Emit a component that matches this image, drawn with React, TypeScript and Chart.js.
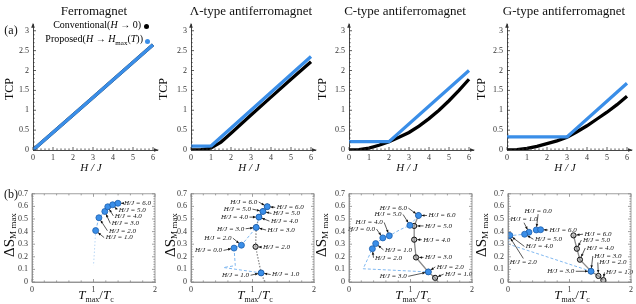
import React, { useEffect, useRef } from 'react';
import { Chart, registerables } from 'chart.js';
Chart.register(...registerables);

// ---------------- top row data: TCP vs H/J ----------------
const H_TICKS = [0, 1, 2, 3, 4, 5, 6];
const TCP_TICKS = [0, 0.5, 1, 1.5, 2, 2.5, 3];

const FERRO_H = [0, 3, 6];
const FERRO_CONV_TCP = [0, 1.32, 2.65];
const FERRO_PROP_TCP = [0, 1.32, 2.65];

const A_CONV_H = [0, 0.5, 1, 1.5, 2, 3, 4, 5, 6];
const A_CONV_TCP = [0, 0.01, 0.05, 0.2, 0.42, 0.88, 1.33, 1.78, 2.22];
const A_PROP_H = [0, 1, 6];
const A_PROP_TCP = [0.1, 0.1, 2.35];

const C_CONV_H = [0, 0.5, 1, 1.5, 2, 2.5, 3, 3.5, 4, 4.5, 5, 5.5, 6];
const C_CONV_TCP = [0, 0.01, 0.05, 0.12, 0.21, 0.32, 0.44, 0.6, 0.79, 1.0, 1.24, 1.5, 1.78];
const C_PROP_H = [0, 2, 6];
const C_PROP_TCP = [0.21, 0.21, 2.0];

const G_CONV_H = [0, 0.5, 1, 1.5, 2, 2.5, 3, 3.5, 4, 4.5, 5, 5.5, 6];
const G_CONV_TCP = [0, 0.01, 0.04, 0.09, 0.16, 0.23, 0.32, 0.46, 0.61, 0.78, 0.95, 1.14, 1.35];
const G_PROP_H = [0, 3, 6];
const G_PROP_TCP = [0.33, 0.33, 1.68];

// ---------------- bottom row data: ΔS_M max vs T_max/T_c ----------------
const T_TICKS = [0, 1, 2];
const S_TICKS = [0, 0.1, 0.2, 0.3, 0.4, 0.5, 0.6, 0.7];

const FERRO_PROP_HJ = [1, 2, 3, 4, 5, 6];
const FERRO_PROP_T = [1.035, 1.088, 1.184, 1.232, 1.312, 1.397];
const FERRO_PROP_S = [0.408, 0.51, 0.56, 0.597, 0.613, 0.625];
const FERRO_PATH_T = [1.397, 1.312, 1.232, 1.184, 1.088, 1.035];
const FERRO_PATH_S = [0.625, 0.613, 0.597, 0.56, 0.51, 0.408];
const FERRO_TAIL_T = [1.035, 1.02, 1.0];
const FERRO_TAIL_S = [0.408, 0.28, 0.13];

const A_PROP_HJ = [0, 1, 2, 3, 4, 5, 6];
const A_PROP_T = [0.7, 1.14, 0.82, 1.06, 1.105, 1.17, 1.24];
const A_PROP_S = [0.269, 0.072, 0.292, 0.433, 0.515, 0.56, 0.598];
const A_CONV_HJ = [1, 2, 3, 4, 5, 6];
const A_CONV_T = [1.14, 1.05, 1.06, 1.105, 1.17, 1.24];
const A_CONV_S = [0.072, 0.28, 0.433, 0.515, 0.56, 0.598];
const A_PPATH_T = [1.24, 1.17, 1.105, 1.06, 0.82, 0.7, 0.72, 0.53, 1.14];
const A_PPATH_S = [0.598, 0.56, 0.515, 0.433, 0.292, 0.269, 0.13, 0.115, 0.072];
const A_CPATH_T = [1.24, 1.17, 1.105, 1.06, 1.05, 1.14, 1.2];
const A_CPATH_S = [0.598, 0.56, 0.515, 0.433, 0.28, 0.072, 0];

const C_PROP_HJ = [0, 1, 2, 3, 4, 5, 6];
const C_PROP_T = [0.55, 0.434, 0.38, 1.29, 0.655, 0.99, 1.13];
const C_PROP_S = [0.35, 0.305, 0.264, 0.08, 0.367, 0.45, 0.528];
const C_CONV_HJ = [1, 2, 3, 4, 5, 6];
const C_CONV_T = [1.4, 1.29, 1.09, 1.06, 1.06, 1.13];
const C_CONV_S = [0.033, 0.08, 0.195, 0.336, 0.445, 0.528];
const C_PPATH_T = [1.13, 0.99, 0.83, 0.655, 0.55, 0.434, 0.38, 0.23, 1.29];
const C_PPATH_S = [0.528, 0.45, 0.415, 0.367, 0.35, 0.305, 0.264, 0.105, 0.08];
const C_CPATH_T = [1.13, 1.06, 1.06, 1.09, 1.29, 1.4, 1.45];
const C_CPATH_S = [0.528, 0.445, 0.336, 0.195, 0.08, 0.033, 0];

const G_PROP_HJ = [0, 1, 2, 3, 4, 5, 6];
const G_PROP_T = [0.46, 0.34, 0.015, 1.35, 0.03, 0.27, 0.53];
const G_PROP_S = [0.413, 0.395, 0.367, 0.085, 0.37, 0.379, 0.415];
const G_CONV_HJ = [1, 2, 3, 4, 5, 6];
const G_CONV_T = [1.55, 1.47, 1.35, 1.17, 1.12, 1.065];
const G_CONV_S = [0.015, 0.048, 0.085, 0.177, 0.264, 0.37];
const G_PPATH_T = [0.53, 0.46, 0.34, 0.27, 0.015, 0.01, 1.35];
const G_PPATH_S = [0.415, 0.413, 0.395, 0.379, 0.367, 0.3, 0.085];
const G_CPATH_T = [1.065, 1.12, 1.17, 1.35, 1.47, 1.55];
const G_CPATH_S = [0.37, 0.264, 0.177, 0.085, 0.048, 0.015];

// ---------------- label layout (pixel offsets from the marked point) ----------------
type Lbl = [number, number, number, number, 'left' | 'right' | 'center'];
// [dataset (0 proposed / 1 conventional), index, dx, dy, align]
const FERRO_LBL: Lbl[] = [
  [0, 5, 6, 0, 'left'], [0, 4, 6, 5, 'left'], [0, 3, 7, 9, 'left'],
  [0, 2, 7, 12, 'left'], [0, 1, 10, 13, 'left'], [0, 0, 10, 7, 'left'],
];
const A_LBL: Lbl[] = [
  [0, 6, -10, -4.6, 'right'], [0, 5, -12, -2.3, 'right'], [0, 4, -11, 0, 'right'],
  [0, 3, -12, 1.3, 'right'], [0, 2, -10, -7, 'right'], [0, 0, -12, 2.3, 'right'],
  [0, 1, -12, 2.3, 'right'],
  [1, 5, 9.4, 0.7, 'left'], [1, 4, 10, 2, 'left'], [1, 3, 12, 4, 'left'],
  [1, 2, 11.4, 2.6, 'left'], [1, 1, 7.3, 0.4, 'left'], [1, 0, 11, 1.6, 'left'],
];
const C_LBL: Lbl[] = [
  [0, 6, -11.6, -7.3, 'right'], [0, 5, -8.3, -10.8, 'right'], [0, 4, -6.6, -13.3, 'right'],
  [0, 0, -7.8, -8.8, 'right'], [0, 1, 9.3, 6.3, 'left'], [0, 2, 2.6, 9, 'left'],
  [0, 3, -21.6, 4.4, 'right'],
  [1, 5, 10, 0, 'left'], [1, 4, 10.8, 0, 'left'], [1, 3, 9, 0, 'left'],
  [1, 2, 9, 0, 'left'], [1, 1, 8.4, -5, 'left'], [1, 0, 10, -3.7, 'left'],
];
const G_LBL: Lbl[] = [
  [0, 0, 1.8, -19.3, 'center'], [0, 1, -4.9, -13, 'center'], [0, 2, 14.4, 26.7, 'center'],
  [0, 3, -16.7, 0, 'right'], [0, 4, 16, 11, 'left'], [0, 5, 10.3, 5, 'left'],
  [0, 6, 9, 0.3, 'left'],
  [1, 5, 11, -1.2, 'left'], [1, 4, 6, -8.7, 'left'], [1, 3, 6.8, -11.7, 'left'],
  [1, 2, 3.3, -15.3, 'left'], [1, 1, 0.9, -13.5, 'left'], [1, 0, 2.6, -7.7, 'left'],
];

const BLUE = '#3a8ee8';
const SERIF = '"Liberation Serif", "DejaVu Serif", serif';

const xy = (xs: number[], ys: number[]) => xs.map((x, i) => ({ x, y: ys[i] }));

function makeArrowPlugin(items: { ds: number; i: number; text: string; dx: number; dy: number; align: string }[]) {
  return {
    id: 'arrowLabels',
    afterDatasetsDraw(chart: any) {
      const ctx = chart.ctx;
      ctx.save();
      ctx.font = `italic 7px ${SERIF}`;
      ctx.fillStyle = '#111';
      ctx.strokeStyle = '#111';
      ctx.lineWidth = 0.7;
      for (const it of items) {
        const el = chart.getDatasetMeta(it.ds).data[it.i];
        if (!el) continue;
        const px = el.x, py = el.y;
        const tx = px + it.dx, ty = py + it.dy;
        let sx = tx, sy = ty;
        if (it.align === 'left') sx = tx - 1.5;
        else if (it.align === 'right') sx = tx + 1.5;
        else sy = ty + (it.dy < 0 ? 3.5 : -4);
        ctx.textAlign = it.align;
        ctx.textBaseline = 'middle';
        ctx.fillText(it.text, tx, ty);
        const ang = Math.atan2(py - sy, px - sx);
        const dist = Math.hypot(px - sx, py - sy) - 3.2;
        if (dist > 0.5) {
          const ex = sx + Math.cos(ang) * dist, ey = sy + Math.sin(ang) * dist;
          ctx.beginPath();
          ctx.moveTo(sx, sy);
          ctx.lineTo(ex, ey);
          ctx.stroke();
          const a = 2.8, w = 1.3;
          ctx.beginPath();
          ctx.moveTo(ex, ey);
          ctx.lineTo(ex - Math.cos(ang) * a - Math.sin(ang) * w, ey - Math.sin(ang) * a + Math.cos(ang) * w);
          ctx.lineTo(ex - Math.cos(ang) * a + Math.sin(ang) * w, ey - Math.sin(ang) * a - Math.cos(ang) * w);
          ctx.closePath();
          ctx.fill();
        }
      }
      ctx.restore();
    },
  };
}

function makeDecor(kind: 'axes' | 'frame', xMaj: number[], yMaj: number[], xMinStep: number, yMinStep: number, xEnd: number, yEnd: number) {
  return {
    id: 'decor',
    afterDraw(chart: any) {
      const ctx = chart.ctx;
      const { left, right, top, bottom } = chart.chartArea;
      const xs = chart.scales.x, ys = chart.scales.y;
      const col = kind === 'axes' ? '#333' : '#888';
      ctx.save();
      ctx.strokeStyle = col;
      ctx.fillStyle = col;
      ctx.lineWidth = 0.8;
      const tick = (x1: number, y1: number, x2: number, y2: number) => {
        ctx.beginPath(); ctx.moveTo(x1, y1); ctx.lineTo(x2, y2); ctx.stroke();
      };
      const xm: number[] = [], ym: number[] = [];
      for (let k = 0; k * xMinStep <= xEnd + 1e-9; k++) xm.push(k * xMinStep);
      for (let k = 0; k * yMinStep <= yEnd + 1e-9; k++) ym.push(k * yMinStep);
      const isMaj = (arr: number[], v: number) => arr.some((m) => Math.abs(m - v) < 1e-6);
      for (const v of xm) {
        const p = xs.getPixelForValue(v);
        const L = isMaj(xMaj, v) ? 3 : 1.6;
        tick(p, bottom, p, bottom - L);
        if (kind === 'frame') tick(p, top, p, top + L);
      }
      for (const v of ym) {
        const p = ys.getPixelForValue(v);
        const L = isMaj(yMaj, v) ? 3 : 1.6;
        tick(left, p, left + L, p);
        if (kind === 'frame') tick(right, p, right - L, p);
      }
      if (kind === 'frame') {
        ctx.strokeRect(left, top, right - left, bottom - top);
      } else {
        ctx.beginPath();
        ctx.moveTo(right + 2, bottom);
        ctx.lineTo(right - 3, bottom - 1.8);
        ctx.lineTo(right - 3, bottom + 1.8);
        ctx.closePath();
        ctx.fill();
        ctx.beginPath();
        ctx.moveTo(left, top - 2);
        ctx.lineTo(left - 1.8, top + 3);
        ctx.lineTo(left + 1.8, top + 3);
        ctx.closePath();
        ctx.fill();
      }
      ctx.restore();
    },
  };
}

const baseOpts = {
  responsive: false,
  animation: false,
  devicePixelRatio: 1,
  events: [],
  plugins: { legend: { display: false }, tooltip: { enabled: false } },
};

function topConfig(convH: number[], convT: number[], propH: number[], propT: number[]) {
  return {
    type: 'scatter',
    data: {
      datasets: [
        { data: xy(propH, propT), showLine: true, borderColor: BLUE, borderWidth: 3.3, pointRadius: 0, borderCapStyle: 'butt' },
        { data: xy(convH, convT), showLine: true, borderColor: '#000', borderWidth: 3.3, pointRadius: 0, borderCapStyle: 'butt' },
      ],
    },
    options: {
      ...baseOpts,
      layout: { padding: { top: 8, right: 5, left: 0, bottom: 0 } },
      scales: {
        x: {
          type: 'linear', min: 0, max: 6.2,
          afterBuildTicks: (s: any) => { s.ticks = H_TICKS.map((v) => ({ value: v })); },
          afterFit: (s: any) => { s.height = 14; },
          grid: { display: false, drawTicks: false },
          border: { display: true, color: '#333', width: 0.9 },
          ticks: { font: { family: SERIF, size: 8 }, color: '#333', padding: 3, maxRotation: 0, autoSkip: false, callback: (v: any) => String(v) },
        },
        y: {
          type: 'linear', min: 0, max: 3.15,
          afterBuildTicks: (s: any) => { s.ticks = TCP_TICKS.map((v) => ({ value: v })); },
          afterFit: (s: any) => { s.width = 30; },
          grid: { display: false, drawTicks: false },
          border: { display: true, color: '#333', width: 0.9 },
          ticks: { font: { family: SERIF, size: 8 }, color: '#333', padding: 4, autoSkip: false, callback: (v: any) => String(v) },
        },
      },
    },
    plugins: [makeDecor('axes', H_TICKS, TCP_TICKS, 0.2, 0.1, 6, 3)],
  };
}

function bottomConfig(p: any) {
  const items = p.labels.map((l: Lbl) => ({
    ds: l[0], i: l[1], dx: l[2], dy: l[3], align: l[4],
    text: `H/J = ${(l[0] === 0 ? p.propHJ : p.convHJ)[l[1]].toFixed(1)}`,
  }));
  return {
    type: 'scatter',
    data: {
      datasets: [
        { data: xy(p.propT, p.propS), pointRadius: 3, pointBackgroundColor: BLUE, pointBorderColor: '#1d5fae', pointBorderWidth: 0.8 },
        { data: xy(p.convT, p.convS), pointRadius: 2.6, pointBackgroundColor: 'rgba(150,150,150,0.55)', pointBorderColor: '#111', pointBorderWidth: 1 },
        { data: xy(p.ppathT, p.ppathS), showLine: true, pointRadius: 0, borderColor: '#80b8f0', borderWidth: 1, borderDash: [3, 2] },
        { data: xy(p.cpathT, p.cpathS), showLine: true, pointRadius: 0, borderColor: '#8a8a8a', borderWidth: 1.3, borderDash: p.cdash },
        { data: xy(p.tailT, p.tailS), showLine: true, pointRadius: 0, borderColor: '#b8d6f5', borderWidth: 1, borderDash: [1.5, 2] },
      ],
    },
    options: {
      ...baseOpts,
      layout: { padding: { top: 6, right: 4, left: 0, bottom: 0 } },
      scales: {
        x: {
          type: 'linear', min: 0, max: 2,
          afterBuildTicks: (s: any) => { s.ticks = T_TICKS.map((v) => ({ value: v })); },
          afterFit: (s: any) => { s.height = 14; },
          grid: { display: false, drawTicks: false },
          border: { display: true, color: '#888', width: 0.8 },
          ticks: { font: { family: SERIF, size: 8 }, color: '#333', padding: 3, maxRotation: 0, autoSkip: false, callback: (v: any) => String(v) },
        },
        y: {
          type: 'linear', min: 0, max: 0.7,
          afterBuildTicks: (s: any) => { s.ticks = S_TICKS.map((v) => ({ value: v })); },
          afterFit: (s: any) => { s.width = 26; },
          grid: { display: false, drawTicks: false },
          border: { display: true, color: '#888', width: 0.8 },
          ticks: { font: { family: SERIF, size: 8 }, color: '#333', padding: 4, autoSkip: false, callback: (v: any) => (v === 0 ? '0' : Number(v).toFixed(1)) },
        },
      },
    },
    plugins: [makeDecor('frame', T_TICKS, S_TICKS, 0.2, 0.02, 2, 0.7), makeArrowPlugin(items)],
  };
}

function ChartBox({ left, top, width, height, config }: any) {
  const ref = useRef<HTMLCanvasElement>(null);
  useEffect(() => {
    const chart = new Chart(ref.current as HTMLCanvasElement, config());
    return () => chart.destroy();
  }, []);
  return (
    <div style={{ position: 'absolute', left, top, width, height }}>
      <canvas ref={ref} width={width} height={height} style={{ width, height, display: 'block' }} />
    </div>
  );
}

function Txt({ x, y, size, rot, italic, children }: any) {
  return (
    <div
      style={{
        position: 'absolute', left: x, top: y, whiteSpace: 'nowrap',
        transform: `translate(-50%, -50%)${rot ? ' rotate(-90deg)' : ''}`,
        fontFamily: SERIF, fontSize: size, fontStyle: italic ? 'italic' : 'normal',
        lineHeight: 1, color: '#111',
      }}
    >
      {children}
    </div>
  );
}

const TOP_X0 = [33, 191, 349, 507];
const BOT_L = [32, 191, 349, 508];
const TITLES = ['Ferromagnet', 'Λ-type antiferromagnet', 'C-type antiferromagnet', 'G-type antiferromagnet'];
const TITLE_CX = [94, 251, 405, 564];
const TCP_CX = [9, 163, 322, 481];
const DS_CX = [9, 170, 321, 481];

const TOP_SETS = [
  [FERRO_H, FERRO_CONV_TCP, FERRO_H, FERRO_PROP_TCP],
  [A_CONV_H, A_CONV_TCP, A_PROP_H, A_PROP_TCP],
  [C_CONV_H, C_CONV_TCP, C_PROP_H, C_PROP_TCP],
  [G_CONV_H, G_CONV_TCP, G_PROP_H, G_PROP_TCP],
];

const BOT_SETS = [
  { propHJ: FERRO_PROP_HJ, propT: FERRO_PROP_T, propS: FERRO_PROP_S, convHJ: [], convT: [], convS: [],
    ppathT: FERRO_PATH_T, ppathS: FERRO_PATH_S, cpathT: [], cpathS: [], tailT: FERRO_TAIL_T, tailS: FERRO_TAIL_S, cdash: [], labels: FERRO_LBL },
  { propHJ: A_PROP_HJ, propT: A_PROP_T, propS: A_PROP_S, convHJ: A_CONV_HJ, convT: A_CONV_T, convS: A_CONV_S,
    ppathT: A_PPATH_T, ppathS: A_PPATH_S, cpathT: A_CPATH_T, cpathS: A_CPATH_S, tailT: [], tailS: [], cdash: [1.5, 1.5], labels: A_LBL },
  { propHJ: C_PROP_HJ, propT: C_PROP_T, propS: C_PROP_S, convHJ: C_CONV_HJ, convT: C_CONV_T, convS: C_CONV_S,
    ppathT: C_PPATH_T, ppathS: C_PPATH_S, cpathT: C_CPATH_T, cpathS: C_CPATH_S, tailT: [], tailS: [], cdash: [], labels: C_LBL },
  { propHJ: G_PROP_HJ, propT: G_PROP_T, propS: G_PROP_S, convHJ: G_CONV_HJ, convT: G_CONV_T, convS: G_CONV_S,
    ppathT: G_PPATH_T, ppathS: G_PPATH_S, cpathT: G_CPATH_T, cpathS: G_CPATH_S, tailT: [], tailS: [], cdash: [], labels: G_LBL },
];

export default function App() {
  return (
    <div style={{ position: 'fixed', left: 0, top: 0, width: 636, height: 304, background: '#fff', overflow: 'hidden' }}>
      {TOP_SETS.map((s, k) => (
        <ChartBox key={'t' + k} left={TOP_X0[k] - 30} top={16} width={159} height={148}
          config={() => topConfig(s[0], s[1], s[2], s[3])} />
      ))}
      {BOT_SETS.map((s, k) => (
        <ChartBox key={'b' + k} left={BOT_L[k] - 26} top={185} width={154} height={111}
          config={() => bottomConfig(s)} />
      ))}
      {TITLES.map((t, k) => (
        <Txt key={'ti' + k} x={TITLE_CX[k]} y={10} size={13}>{t}</Txt>
      ))}
      {TCP_CX.map((x, k) => (
        <Txt key={'tcp' + k} x={x} y={89} size={12} rot>TCP</Txt>
      ))}
      {TOP_X0.map((x, k) => (
        <Txt key={'hj' + k} x={x + 58} y={167} size={11} italic>H / J</Txt>
      ))}
      {DS_CX.map((x, k) => (
        <Txt key={'ds' + k} x={x} y={235} size={15} rot>
          ΔS<span style={{ fontSize: 9, position: 'relative', top: 2 }}>M max</span>
        </Txt>
      ))}
      {BOT_L.map((x, k) => (
        <Txt key={'tm' + k} x={x + 64} y={296} size={13}>
          <i>T</i><sub style={{ fontSize: 8 }}>max</sub>/<i>T</i><sub style={{ fontSize: 8 }}>c</sub>
        </Txt>
      ))}
      <Txt x={11} y={30} size={12}>(a)</Txt>
      <Txt x={11} y={194} size={12}>(b)</Txt>
      <div style={{ position: 'absolute', right: 636 - 141, top: 20, fontFamily: SERIF, fontSize: 10, lineHeight: 1, whiteSpace: 'nowrap' }}>
        Conventional(<i>H</i> → 0)
      </div>
      <div style={{ position: 'absolute', left: 143.5, top: 23.5, width: 5, height: 5, borderRadius: 3, background: '#000' }} />
      <div style={{ position: 'absolute', right: 636 - 143, top: 34, fontFamily: SERIF, fontSize: 10, lineHeight: 1, whiteSpace: 'nowrap' }}>
        Proposed(<i>H</i> → <i>H</i><sub style={{ fontSize: 7 }}>max</sub>(<i>T</i>))
      </div>
      <div style={{ position: 'absolute', left: 144.5, top: 38.5, width: 5, height: 5, borderRadius: 3, background: BLUE }} />
    </div>
  );
}
